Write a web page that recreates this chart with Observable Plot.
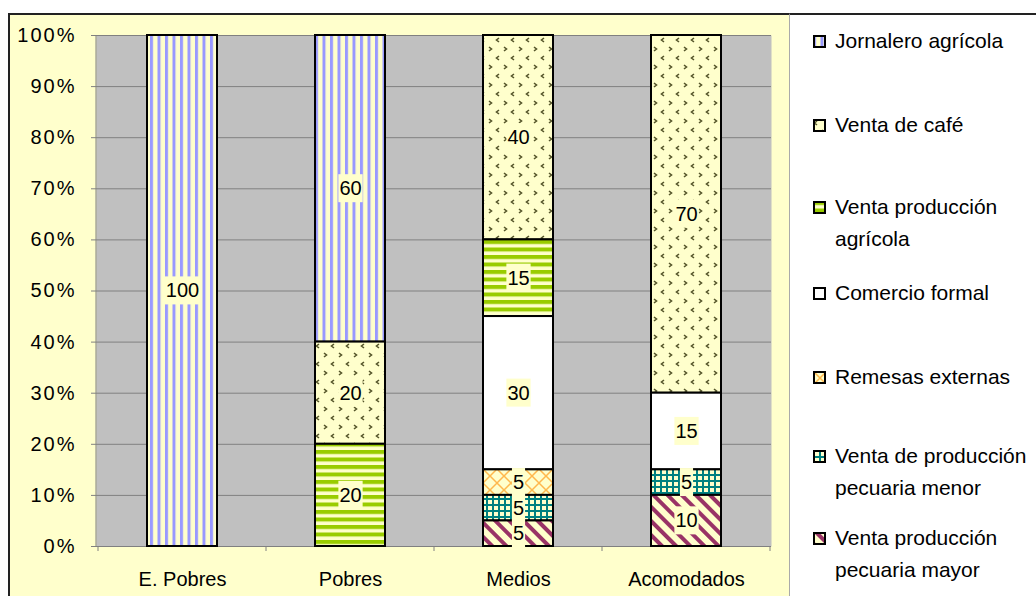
<!DOCTYPE html>
<html>
<head>
<meta charset="utf-8">
<script src="https://cdn.jsdelivr.net/npm/d3@7"></script>
<script src="https://cdn.jsdelivr.net/npm/@observablehq/plot@0.6"></script>
<style>
  body { margin: 0; background: #fff; font-family: "Liberation Sans", Arial, sans-serif; }
  #wrap { position: relative; width: 1036px; height: 596px; overflow: hidden; }
  #chartbg { position: absolute; left: 8px; top: 13px; width: 781px; height: 620px; background: #ffffcc;
             border-left: 2px solid #222; border-top: 2px solid #222; box-sizing: border-box; }
  #legendbg { position: absolute; left: 789px; top: 13px; width: 260px; height: 620px; background: #fff;
              border-left: 1px solid #aaa; border-top: 2px solid #222; box-sizing: border-box; }
  #plot { position: absolute; left: 0; top: 0; }
  #plot g[aria-label="y-axis tick label"] text { letter-spacing: 2px; }
  .leg { position: absolute; left: 813px; width: 215px; font-size: 21px; line-height: 32px; color: #000; }
  .leg .sw { position: absolute; left: 0; top: 10px; width: 13px; height: 13px; }
  .leg .tx { display: block; margin-left: 22px; }
</style>
</head>
<body>
<svg width="0" height="0" style="position:absolute">
  <defs>
    <pattern id="pJor" patternUnits="userSpaceOnUse" width="7.5" height="10">
      <rect width="7.5" height="10" fill="#ffffcc"/>
      <rect x="0" width="3" height="10" fill="#9999ff"/>
    </pattern>
    <pattern id="pCafe" patternUnits="userSpaceOnUse" width="15" height="18">
      <rect width="15" height="18" fill="#ffffcc"/>
      <path d="M4,2 L1.5,4 L4,6 M9,11 L11.5,13 L9,15" stroke="#55552a" stroke-width="1.6" fill="none"/>
    </pattern>
    <pattern id="pAgr" patternUnits="userSpaceOnUse" width="10" height="7.5">
      <rect width="10" height="7.5" fill="#ffffcc"/>
      <rect y="0" width="10" height="4" fill="#99cc00"/>
    </pattern>
    <pattern id="pRem" patternUnits="userSpaceOnUse" width="14" height="14">
      <rect width="14" height="14" fill="#ffffcc"/>
      <path d="M0,0 L14,14 M14,0 L0,14" stroke="#ffb84d" stroke-width="1.5"/>
    </pattern>
    <pattern id="pMen" patternUnits="userSpaceOnUse" width="6" height="6">
      <rect width="6" height="6" fill="#ffffcc"/>
      <rect width="6" height="2" fill="#008080"/>
      <rect width="2" height="6" fill="#008080"/>
    </pattern>
    <pattern id="pMay" patternUnits="userSpaceOnUse" width="10" height="10" patternTransform="rotate(-45)">
      <rect width="10" height="10" fill="#ffffcc"/>
      <rect width="4" height="10" fill="#993366"/>
    </pattern>
  </defs>
</svg>
<div id="wrap">
  <div id="chartbg"></div>
  <div id="legendbg"></div>
  <div id="plot"></div>
  <div id="legend"></div>
</div>
<script>
// ---- data ----
const categories = ["E. Pobres", "Pobres", "Medios", "Acomodados"];
const series = [
  "Jornalero agrícola",
  "Venta de café",
  "Venta producción agrícola",
  "Comercio formal",
  "Remesas externas",
  "Venta de producción pecuaria menor",
  "Venta producción pecuaria mayor"
];
const jornalero      = [100, 60, 0, 0];
const ventaCafe      = [0, 20, 40, 70];
const ventaAgricola  = [0, 20, 15, 0];
const comercio       = [0, 0, 30, 15];
const remesas        = [0, 0, 5, 0];
const pecuariaMenor  = [0, 0, 5, 5];
const pecuariaMayor  = [0, 0, 5, 10];
const yTicks = [0, 0.1, 0.2, 0.3, 0.4, 0.5, 0.6, 0.7, 0.8, 0.9, 1];

// ---- styles ----
const fills = ["url(#pJor)", "url(#pCafe)", "url(#pAgr)", "#ffffff", "url(#pRem)", "url(#pMen)", "url(#pMay)"];
const legendCenters = [41, 125, 207, 293, 377, 456, 538];

const valuesBySeries = [jornalero, ventaCafe, ventaAgricola, comercio, remesas, pecuariaMenor, pecuariaMayor];
const table = [];
series.forEach((s, i) => valuesBySeries[i].forEach((v, j) => {
  if (v > 0) table.push({cat: categories[j], series: s, value: v});
}));
const fillOf = d => fills[series.indexOf(d.series)];
const stackOrder = series.slice().reverse();
const stackOpts = {x: "cat", y: "value", z: "series", order: stackOrder, offset: "normalize"};

function boundaryTicks(index, scales, values, dims) {
  const g = d3.create("svg:g");
  const x = scales.x;
  const bw = typeof x.bandwidth === "function" ? x.bandwidth() : x.bandwidth;
  const step = x(categories[1]) - x(categories[0]);
  const left = dims.marginLeft, top = dims.marginTop, bottom = dims.height - dims.marginBottom;
  const bounds = categories.map(c => x(c) + bw / 2 - step / 2);
  bounds.push(x(categories[categories.length - 1]) + bw / 2 + step / 2);
  g.append("line").attr("x1", left).attr("x2", left).attr("y1", top).attr("y2", bottom)
    .attr("stroke", "#808080");
  g.selectAll("line.t").data(bounds).join("line").attr("class", "t")
    .attr("x1", d => d).attr("x2", d => d).attr("y1", bottom).attr("y2", bottom + 5)
    .attr("stroke", "#808080");
  return g.node();
}

const chart = Plot.plot({
  width: 1036, height: 596,
  marginLeft: 96, marginRight: 265, marginTop: 35, marginBottom: 50,
  style: {background: "transparent", fontFamily: "'Liberation Sans', Arial, sans-serif", fontSize: "20px", overflow: "visible", color: "black"},
  x: {domain: categories, paddingInner: 0.585, paddingOuter: 0.2925, axis: null},
  y: {domain: [0, 1], axis: null},
  fill: {type: "identity"},
  marks: [
    Plot.frame({fill: "#c0c0c0", stroke: "none"}),
    Plot.gridY(yTicks, {stroke: "#808080", strokeOpacity: 1}),
    Plot.axisY(yTicks, {tickFormat: d3.format(".0%"), tickSize: 5, tickPadding: 15, stroke: "#808080", fill: "black", fontSize: 20, label: null}),
    Plot.axisX({tickSize: 0, tickPadding: 25, fill: "black", fontSize: 20, label: null}),
    boundaryTicks,
    Plot.barY(table, Plot.stackY({...stackOpts, fill: fillOf, stroke: "black", strokeWidth: 2})),
    Plot.text(table, Plot.stackY({...stackOpts, text: "value", fill: "black", fontSize: 20}))
  ]
});
document.getElementById("plot").appendChild(chart);

// label backgrounds
const svgNS = "http://www.w3.org/2000/svg";
chart.querySelectorAll('g[aria-label="text"] text').forEach(t => {
  const b = t.getBBox();
  const r = document.createElementNS(svgNS, "rect");
  r.setAttribute("x", b.x - 1);
  r.setAttribute("y", b.y - 3);
  r.setAttribute("width", b.width + 2);
  r.setAttribute("height", b.height + 6);
  r.setAttribute("fill", "#ffffcc");
  r.setAttribute("stroke", "none");
  const tr = t.getAttribute("transform");
  if (tr) r.setAttribute("transform", tr);
  t.parentNode.insertBefore(r, t);
});

// legend
const legend = document.getElementById("legend");
series.forEach((s, i) => {
  const item = document.createElement("div");
  item.className = "leg";
  item.style.top = (legendCenters[i] - 16) + "px";
  item.innerHTML = `<svg class="sw" width="13" height="13"><rect x="1" y="1" width="11" height="11" fill="${fills[i]}" stroke="black" stroke-width="2"/></svg><span class="tx"></span>`;
  item.querySelector(".tx").textContent = s;
  legend.appendChild(item);
});
</script>
</body>
</html>
